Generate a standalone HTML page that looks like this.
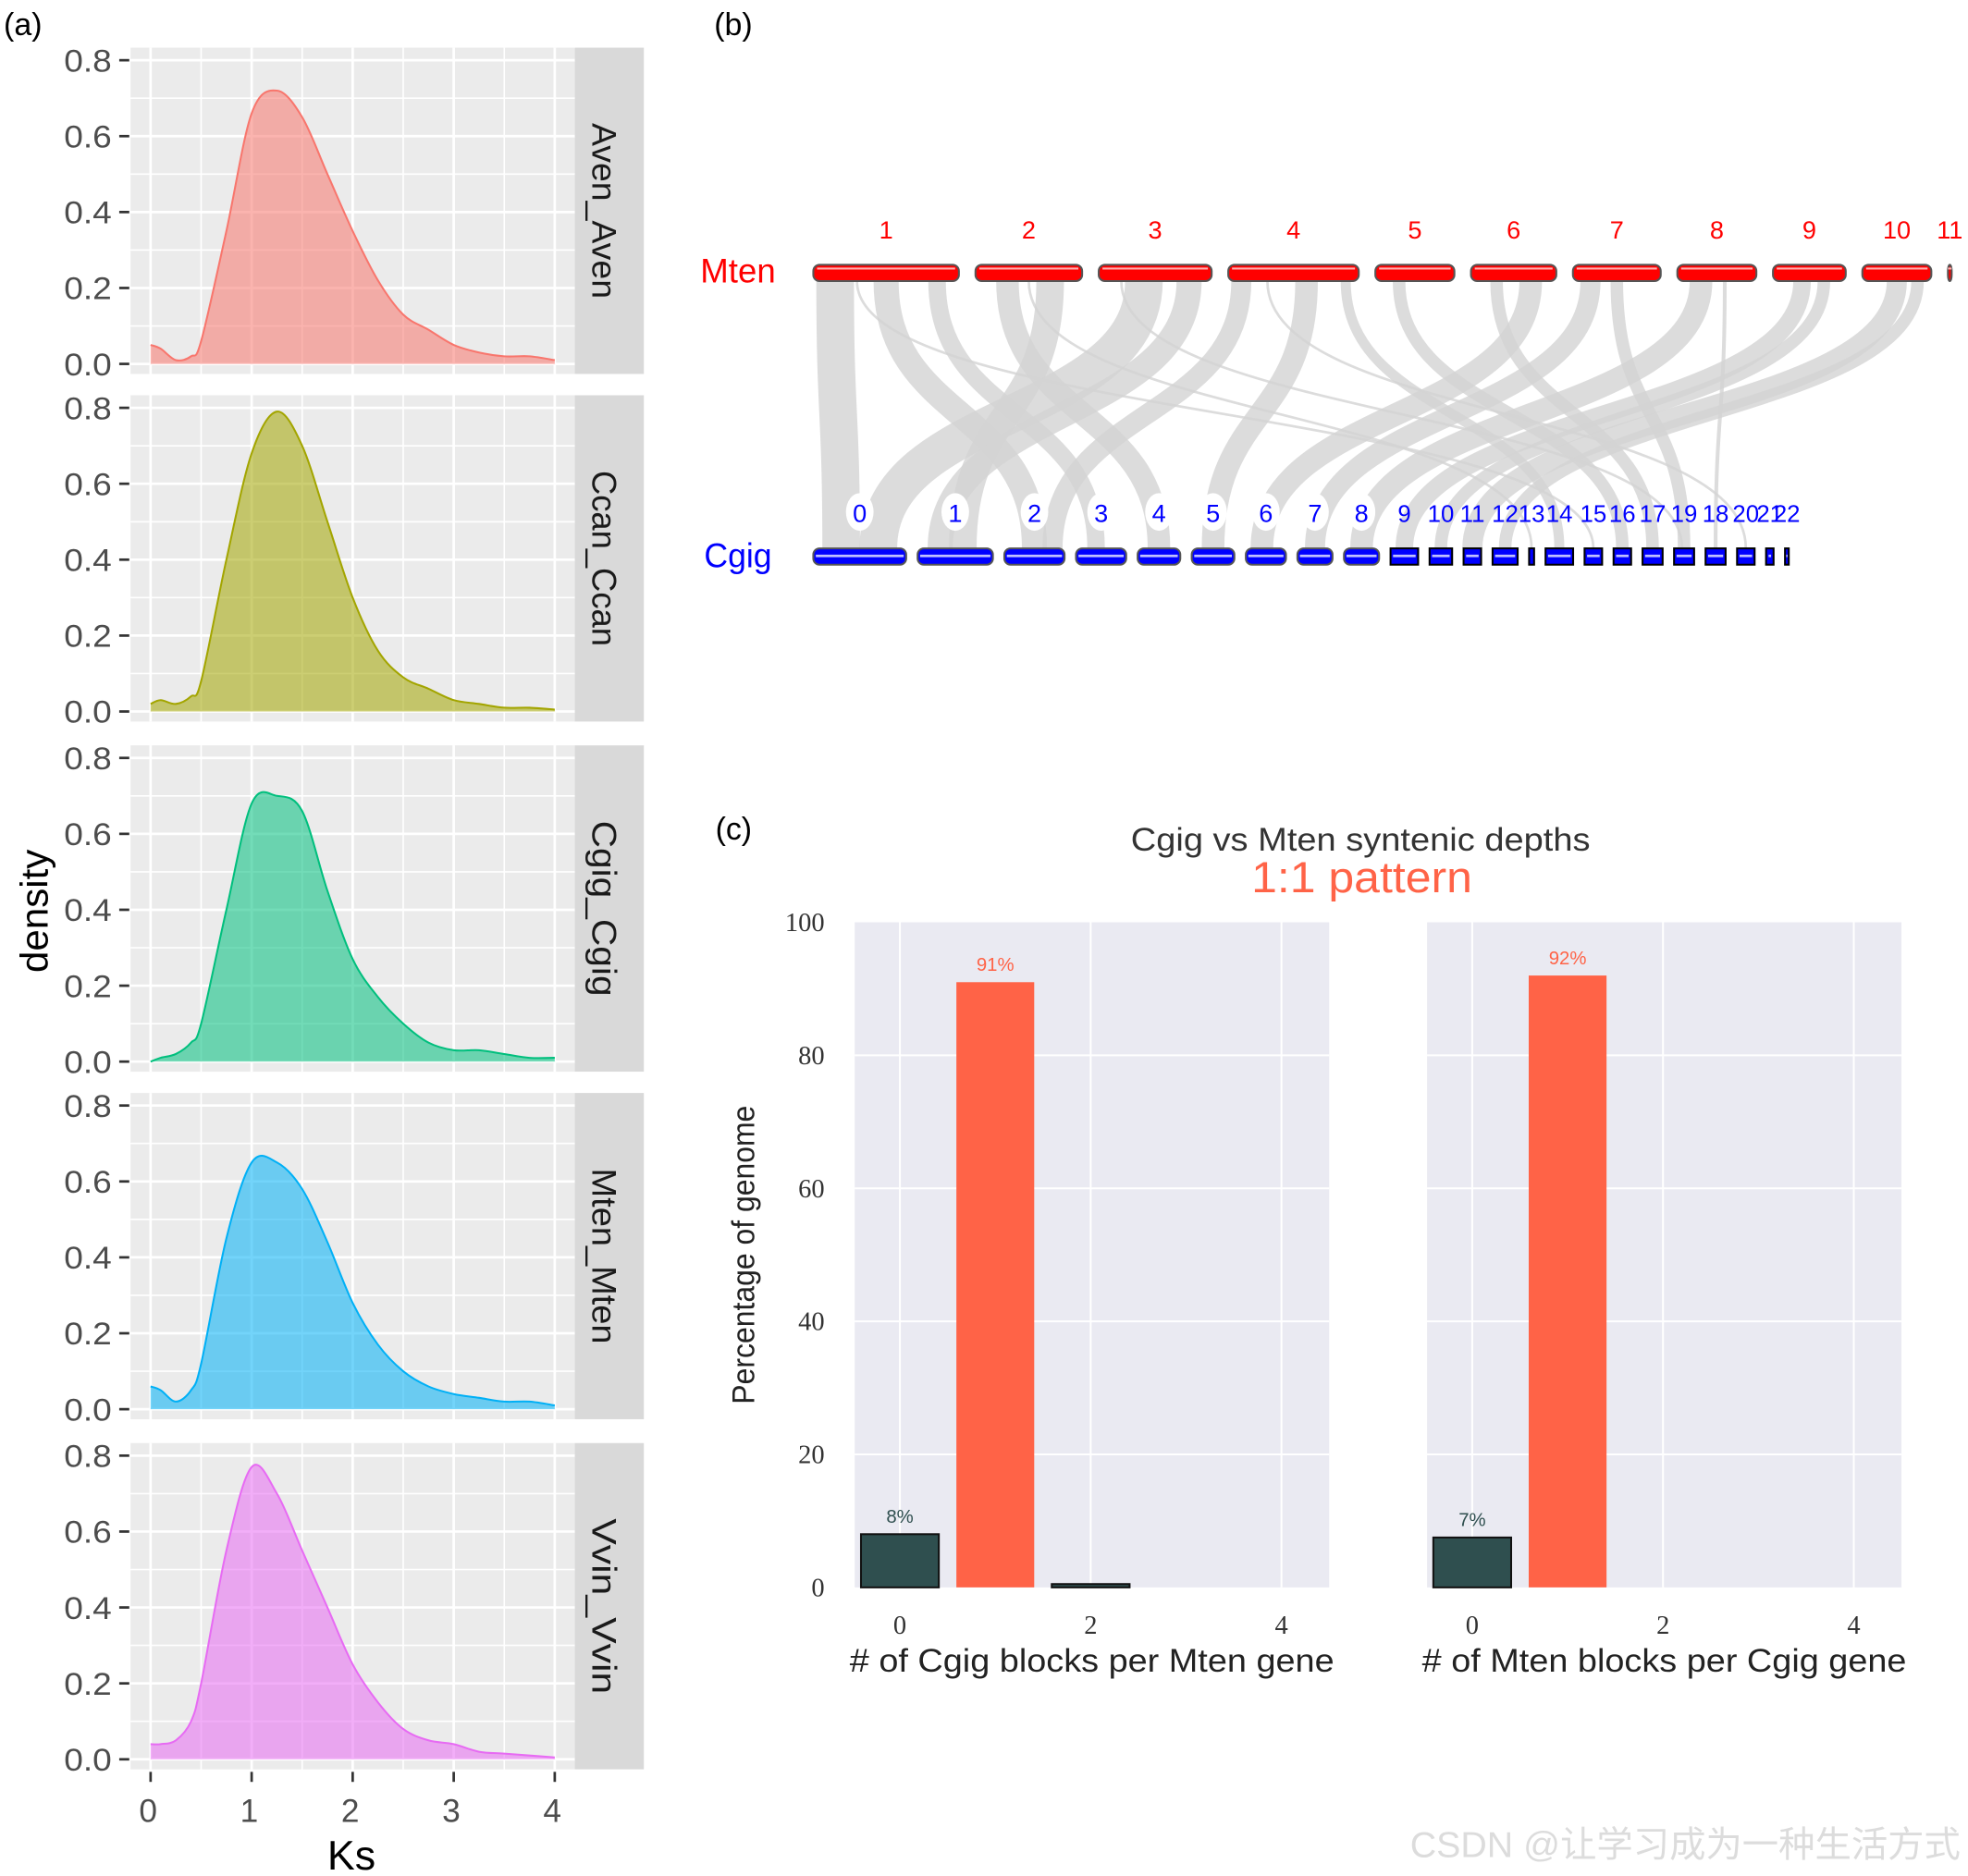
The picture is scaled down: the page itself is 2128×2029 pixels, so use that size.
<!DOCTYPE html>
<html><head><meta charset="utf-8">
<style>
html,body{margin:0;padding:0;background:#fff;}
svg{display:block;}
text{font-family:"Liberation Sans","Noto Sans CJK SC",sans-serif;}
.serif{font-family:"Liberation Serif",serif;}
</style></head>
<body>
<svg id="fig" width="2128" height="2029" viewBox="0 0 1568 1495" preserveAspectRatio="none" xmlns="http://www.w3.org/2000/svg">
<text x="3" y="28" font-size="25">(a)</text>
<text x="569" y="28" font-size="25">(b)</text>
<text x="570" y="669" font-size="25">(c)</text>
<text transform="translate(38,726) rotate(-90)" text-anchor="middle" font-size="31">density</text>
<text x="280" y="1490" text-anchor="middle" font-size="33">Ks</text>
<g id="pa"></g><g id="pb"></g><g id="pc"></g>
<text x="1562" y="1480" text-anchor="end" font-size="29" fill="#dcdcdc">CSDN @让学习成为一种生活方式</text>
</svg>
<script>
const NS="http://www.w3.org/2000/svg";
function mk(parent,tag,attrs,txt){const e=document.createElementNS(NS,tag);for(const k in attrs)e.setAttribute(k,attrs[k]);if(txt!==undefined)e.textContent=txt;parent.appendChild(e);return e;}

// ---------- Panel (a) data ----------
const ksPoints=[0,0.1,0.25,0.4,0.5,0.75,1,1.25,1.5,1.75,2,2.25,2.5,2.75,3,3.25,3.5,3.75,4];
const facetNames=["Aven_Aven","Ccan_Ccan","Cgig_Cgig","Mten_Mten","Vvin_Vvin"];
const densAven=[0.05,0.04,0.01,0.02,0.06,0.35,0.66,0.72,0.65,0.50,0.35,0.22,0.13,0.09,0.05,0.03,0.02,0.02,0.01];
const densCcan=[0.02,0.03,0.02,0.04,0.08,0.40,0.68,0.79,0.70,0.50,0.30,0.16,0.09,0.06,0.03,0.02,0.01,0.01,0.005];
const densCgig=[0.0,0.01,0.02,0.05,0.10,0.40,0.68,0.70,0.66,0.45,0.27,0.17,0.10,0.05,0.03,0.03,0.02,0.01,0.01];
const densMten=[0.06,0.05,0.02,0.05,0.12,0.45,0.65,0.65,0.58,0.44,0.28,0.17,0.10,0.06,0.04,0.03,0.02,0.02,0.01];
const densVvin=[0.04,0.04,0.05,0.10,0.20,0.55,0.77,0.70,0.55,0.40,0.25,0.15,0.08,0.05,0.04,0.02,0.015,0.01,0.005];
const yTicksA=["0.0","0.2","0.4","0.6","0.8"];
const xTicksA=["0","1","2","3","4"];
const facetColors=["#F8766D","#A3A500","#00BF7D","#00B0F6","#E76BF3"];
const allDens=[densAven,densCcan,densCgig,densMten,densVvin];

const pa=document.getElementById('pa');
const facetTops=[38,315,594,871,1150];
const FH=260, PL=104, PR=458;
const xA=k=>120+k*80.5;
facetTops.forEach((top,i)=>{
  const yA=v=>top+252-v/0.8*242;
  const g=mk(pa,'g',{});
  
  
  mk(g,'rect',{x:PL,y:top,width:PR-PL,height:FH,fill:'#EBEBEB'});
  for(let v=0.1;v<0.85;v+=0.2){mk(g,'line',{x1:PL,x2:PR,y1:yA(v),y2:yA(v),stroke:'#fff','stroke-width':1.2});}
  for(let k=0.5;k<4;k+=1){mk(g,'line',{x1:xA(k),x2:xA(k),y1:top,y2:top+FH,stroke:'#fff','stroke-width':1.2});}
  yTicksA.forEach(t=>{const y=yA(+t);mk(g,'line',{x1:PL,x2:PR,y1:y,y2:y,stroke:'#fff','stroke-width':2});
    mk(g,'line',{x1:95,x2:103,y1:y,y2:y,stroke:'#333','stroke-width':2});
    const tx=mk(g,'text',{x:89,y:y+9,'text-anchor':'end','font-size':25,fill:'#4d4d4d',textLength:38,lengthAdjust:'spacingAndGlyphs'},t);
    });
  xTicksA.forEach(t=>{mk(g,'line',{x1:xA(+t),x2:xA(+t),y1:top,y2:top+FH,stroke:'#fff','stroke-width':2});});
  const d=allDens[i];
  const pts=ksPoints.map((k,j)=>[xA(k),yA(d[j])]);
  let s='L'+pts[0][0]+','+pts[0][1];
  for(let j=0;j<pts.length-1;j++){const p0=pts[Math.max(0,j-1)],p1=pts[j],p2=pts[j+1],p3=pts[Math.min(pts.length-1,j+2)];
    s+=' C'+(p1[0]+(p2[0]-p0[0])/6)+','+(p1[1]+(p2[1]-p0[1])/6)+' '+(p2[0]-(p3[0]-p1[0])/6)+','+(p2[1]-(p3[1]-p1[1])/6)+' '+p2[0]+','+p2[1];}
  const area=mk(g,'path',{d:'M'+xA(ksPoints[0])+','+yA(0)+s+' L'+xA(4)+','+yA(0)+'Z',fill:facetColors[i],'fill-opacity':0.55,stroke:'none'});
  
  const ln=mk(g,'path',{d:'M'+s.slice(1),fill:'none',stroke:facetColors[i],'stroke-width':1.5});
  
  mk(g,'rect',{x:PR,y:top,width:55,height:FH,fill:'#D9D9D9'});
  const st=mk(g,'text',{transform:'translate('+(PR+14)+','+(top+FH/2)+') rotate(90)','text-anchor':'middle','font-size':27,fill:'#1a1a1a',textLength:140,lengthAdjust:'spacingAndGlyphs'},facetNames[i]);
  
});
xTicksA.forEach(t=>{const x=xA(+t);mk(pa,'line',{x1:x,x2:x,y1:1412,y2:1420,stroke:'#333','stroke-width':2});
  const tx=mk(pa,'text',{x:x-2,y:1452,'text-anchor':'middle','font-size':26,fill:'#4d4d4d'},t);
  });

// ---------- Panel (b) ----------
const mtenNames=["1","2","3","4","5","6","7","8","9","10","11"];
const mtenLens=[116,85,90,104,63,68,70,63,58,55,3];
const cgigNames=["0","1","2","3","4","5","6","7","8","9","10","11","12","13","14","15","16","17","19","18","20","21","22"];
const cgigLens=[74,60,48,40,34,34,32,28,28,22,18,14,20,4,22,14,14,16,16,16,14,6,3];
// links: [mten chr, frac, cgig chr, frac, width]
const links=[[0,0.15,0,0.3,30],[0,0.5,2,0.5,20],[0,0.85,3,0.4,14],[1,0.3,4,0.5,18],[1,0.7,1,0.6,22],[2,0.4,0,0.7,30],[2,0.8,1,0.3,20],
[3,0.1,2,0.8,16],[3,0.6,5,0.5,18],[3,0.9,14,0.5,8],[4,0.3,16,0.5,10],[5,0.3,17,0.5,10],[5,0.7,6,0.4,18],[6,0.5,18,0.5,10],[6,0.2,7,0.5,16],
[7,0.3,8,0.5,18],[7,0.6,19,0.5,3],[8,0.4,9,0.5,14],[8,0.7,10,0.5,10],[9,0.5,11,0.5,16],[9,0.8,12,0.5,10],[0,0.3,15,0.5,2],[1,0.5,13,0.5,2],[3,0.3,20,0.5,2],[2,0.2,18,0.4,2]];
const pb=document.getElementById('pb');
function layout(lens,start,gap){let x=start;return lens.map(l=>{const s=x;x+=l+gap;return [s,l];});}
const mPos=layout(mtenLens,648,13.2), cPos=layout(cgigLens,648,9.1);
const lg=mk(pb,'g',{});
links.forEach(L=>{const x1=mPos[L[0]][0]+mPos[L[0]][1]*L[1], x2=cPos[L[2]][0]+cPos[L[2]][1]*L[3];
  const e=mk(lg,'path',{d:'M'+x1+',224 C'+x1+',335 '+x2+',325 '+x2+',437',fill:'none',stroke:'#d3d3d3','stroke-width':L[4],'stroke-opacity':0.8});
  });
mPos.forEach((p,i)=>{const r=mk(pb,'rect',{x:p[0],y:211,width:p[1],height:13,rx:5,fill:'#ff0000',stroke:'#555','stroke-width':1.5});
  
  mk(pb,'line',{x1:p[0]+3,x2:p[0]+p[1]-3,y1:214,y2:214,stroke:'#ffb0b0','stroke-width':1.5});
  const t=mk(pb,'text',{x:p[0]+p[1]/2,y:190,'text-anchor':'middle','font-size':20,fill:'#ff0000'},mtenNames[i]);
  });
cPos.forEach((p,i)=>{
  if(i<9)mk(pb,'ellipse',{cx:p[0]+p[1]/2,cy:408,rx:11,ry:15,fill:'#fff'});
  const r=mk(pb,'rect',{x:p[0],y:437,width:p[1],height:13,rx:i<9?5:0,fill:'#0000ff',stroke:i<9?'#555':'#000','stroke-width':1.5});
  
  mk(pb,'line',{x1:p[0]+2,x2:p[0]+p[1]-2,y1:443,y2:443,stroke:'#c0c0ff','stroke-width':2});
  const t=mk(pb,'text',{x:p[0]+p[1]/2,y:416,'text-anchor':'middle','font-size':i<9?20:19,fill:'#0000ff'},cgigNames[i]);
  });
mk(pb,'text',{x:588,y:225,'text-anchor':'middle','font-size':27,fill:'#ff0000',textLength:60,lengthAdjust:'spacingAndGlyphs'},'Mten');
mk(pb,'text',{x:588,y:452,'text-anchor':'middle','font-size':27,fill:'#0000ff',textLength:54,lengthAdjust:'spacingAndGlyphs'},'Cgig');

// ---------- Panel (c) ----------
const depthCats=[0,1,2];
const leftValues=[8,91,0.5];
const rightValues=[7.5,92,0];
const leftLabels=["8%","91%",""];
const rightLabels=["7%","92%",""];
const yTicksC=[0,20,40,60,80,100];
const xTicksC=[0,2,4];
const pc=document.getElementById('pc');
const yC=v=>1265-v*5.3;
function barPanel(left,vals,labs,title,nm){
  const xC=k=>left+36+k*76;
  const g=mk(pc,'g',{});
  mk(g,'rect',{x:left,y:735,width:378,height:530,fill:'#EAEAF2'});
  yTicksC.forEach(v=>{if(v>0&&v<100)mk(g,'line',{x1:left,x2:left+378,y1:yC(v),y2:yC(v),stroke:'#fff','stroke-width':1.5});});
  xTicksC.forEach(k=>{mk(g,'line',{x1:xC(k),x2:xC(k),y1:735,y2:1265,stroke:'#fff','stroke-width':1.5});
    const t=mk(g,'text',{x:xC(k),y:1302,'text-anchor':'middle','font-size':21,fill:'#333',class:'serif'},String(k));
    });
  depthCats.forEach((c,i)=>{const v=vals[i];if(v<=0)return;const col=i===1?'#FF6347':'#2F4F4F';
    const b=mk(g,'rect',{x:xC(c)-31,y:yC(v),width:62,height:yC(0)-yC(v),fill:col,stroke:i===1?'none':'#111','stroke-width':1.5});
    
    if(labs[i]){const t=mk(g,'text',{x:xC(c),y:yC(v)-9,'text-anchor':'middle','font-size':15,fill:i===1?'#FF6347':'#2F4F4F'},labs[i]);
      }});
  const t=mk(g,'text',{x:left+189,y:1332,'text-anchor':'middle','font-size':26,fill:'#222',textLength:386,lengthAdjust:'spacingAndGlyphs'},title);
  
}
barPanel(681,leftValues,leftLabels,'# of Cgig blocks per Mten gene','cgig-per-mten-chart');
barPanel(1137,rightValues,rightLabels,'# of Mten blocks per Cgig gene','mten-per-cgig-chart');
yTicksC.forEach(v=>{const t=mk(pc,'text',{x:657,y:yC(v)+7,'text-anchor':'end','font-size':21,fill:'#333',class:'serif'},String(v));
  });
let t=mk(pc,'text',{transform:'translate(601,1000) rotate(-90)','text-anchor':'middle','font-size':25,fill:'#222',textLength:238,lengthAdjust:'spacingAndGlyphs'},'Percentage of genome');

t=mk(pc,'text',{x:1084,y:678,'text-anchor':'middle','font-size':26,fill:'#333',textLength:366,lengthAdjust:'spacingAndGlyphs'},'Cgig vs Mten syntenic depths');

t=mk(pc,'text',{x:1085,y:711,'text-anchor':'middle','font-size':35,fill:'#FF6347',textLength:176,lengthAdjust:'spacingAndGlyphs'},'1:1 pattern');

</script>
</body></html>
